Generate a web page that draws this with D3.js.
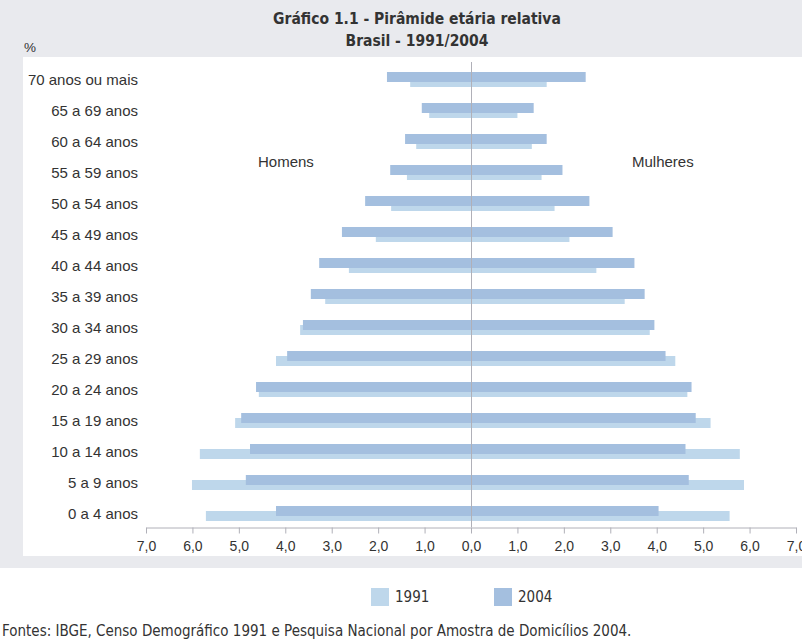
<!DOCTYPE html>
<html><head><meta charset="utf-8">
<script src="https://cdn.jsdelivr.net/npm/d3@7"></script>
<style>
html,body{margin:0;padding:0;background:#fff;}
svg{display:block;}
</style></head>
<body>
<script>
const categories = ["70 anos ou mais","65 a 69 anos","60 a 64 anos","55 a 59 anos","50 a 54 anos","45 a 49 anos","40 a 44 anos","35 a 39 anos","30 a 34 anos","25 a 29 anos","20 a 24 anos","15 a 19 anos","10 a 14 anos","5 a 9 anos","0 a 4 anos"];
const homens1991 = [1.31,0.90,1.18,1.38,1.72,2.05,2.63,3.14,3.68,4.20,4.57,5.08,5.84,6.01,5.71];
const homens2004 = [1.81,1.06,1.42,1.74,2.28,2.78,3.27,3.45,3.62,3.96,4.63,4.95,4.76,4.85,4.20];
const mulheres1991 = [1.63,1.00,1.31,1.52,1.80,2.12,2.70,3.31,3.85,4.40,4.66,5.16,5.79,5.88,5.57];
const mulheres2004 = [2.47,1.35,1.63,1.97,2.55,3.05,3.52,3.74,3.95,4.19,4.75,4.84,4.62,4.69,4.04];
const tickValues = [-7,-6,-5,-4,-3,-2,-1,0,1,2,3,4,5,6,7];
const seriesNames = ["1991","2004"];
const colors = {"1991":"#bed7eb","2004":"#a4bfdf"};

const W = 802, H = 640;
const svg = d3.select("body").append("svg").attr("width",W).attr("height",H);
const condensed = "'Liberation Sans Narrow','Arial Narrow','DejaVu Sans Condensed',sans-serif";
const regular = "'Liberation Sans',Arial,Helvetica,sans-serif";

// backgrounds
svg.append("rect").attr("x",0).attr("y",0).attr("width",W).attr("height",568).attr("fill","#e9eaee");
svg.append("rect").attr("x",23).attr("y",57).attr("width",W-23).attr("height",499).attr("fill","#fff");

// titles
svg.append("text").attr("x",417).attr("y",24).attr("text-anchor","middle")
  .attr("font-family",condensed).attr("font-weight","bold").attr("font-size",15.5).attr("fill","#333")
  .text("Gráfico 1.1 - Pirâmide etária relativa");
svg.append("text").attr("x",417).attr("y",46).attr("text-anchor","middle")
  .attr("font-family",condensed).attr("font-weight","bold").attr("font-size",15.5).attr("fill","#333")
  .text("Brasil - 1991/2004");
svg.append("text").attr("x",24).attr("y",52).attr("font-family",regular).attr("font-size",13.5).attr("fill","#333").text("%");

const x = d3.scaleLinear().domain([-7,7]).range([146,796]);
const y = d3.scaleBand().domain(categories).range([64,529]).padding(0);
const bw = 10, off = 2.5;
const cy = c => y(c) + y.bandwidth()/2;

const rows = categories.map((c,i)=>({c, h91:homens1991[i], h04:homens2004[i], m91:mulheres1991[i], m04:mulheres2004[i]}));

const g = svg.append("g");
// 1991 bars (behind)
g.selectAll(".h91").data(rows).join("rect")
  .attr("x",d=>x(-d.h91)).attr("width",d=>x(0)-x(-d.h91))
  .attr("y",d=>cy(d.c)-bw/2+off).attr("height",bw).attr("fill",colors["1991"]);
g.selectAll(".m91").data(rows).join("rect")
  .attr("x",x(0)).attr("width",d=>x(d.m91)-x(0))
  .attr("y",d=>cy(d.c)-bw/2+off).attr("height",bw).attr("fill",colors["1991"]);
// 2004 bars
g.selectAll(".h04").data(rows).join("rect")
  .attr("x",d=>x(-d.h04)).attr("width",d=>x(0)-x(-d.h04))
  .attr("y",d=>cy(d.c)-bw/2-off).attr("height",bw).attr("fill",colors["2004"]);
g.selectAll(".m04").data(rows).join("rect")
  .attr("x",x(0)).attr("width",d=>x(d.m04)-x(0))
  .attr("y",d=>cy(d.c)-bw/2-off).attr("height",bw).attr("fill",colors["2004"]);

// center line
svg.append("line").attr("x1",x(0)+0.5).attr("x2",x(0)+0.5).attr("y1",62).attr("y2",527)
  .attr("stroke","#b0b0b8").attr("stroke-width",1);

// category labels
svg.selectAll(".cat").data(categories).join("text")
  .attr("x",138).attr("y",d=>cy(d)).attr("dy","0.35em").attr("text-anchor","end")
  .attr("font-family",regular).attr("font-size",15).attr("fill","#333").text(d=>d);

// x axis
const fmt = v => d3.format(".1f")(Math.abs(v)).replace(".",",");
const ax = svg.append("g").attr("transform","translate(0,527.5)")
  .call(d3.axisBottom(x).tickValues(tickValues).tickFormat(fmt).tickSize(6).tickSizeOuter(0));
ax.select(".domain").attr("stroke","#b0b0b8");
ax.selectAll(".tick line").attr("stroke","#b0b0b8");
ax.selectAll(".tick text").attr("font-family",regular).attr("font-size",14).attr("fill","#333").attr("dy","1.05em");

// side labels
svg.append("text").attr("x",258).attr("y",167).attr("font-family",regular).attr("font-size",15).attr("fill","#333").text("Homens");
svg.append("text").attr("x",632).attr("y",167).attr("font-family",regular).attr("font-size",15).attr("fill","#333").text("Mulheres");

// legend
const lx = {"1991":371,"2004":494};
seriesNames.forEach(s=>{
  svg.append("rect").attr("x",lx[s]).attr("y",588).attr("width",18).attr("height",18).attr("fill",colors[s]);
  svg.append("text").attr("x",lx[s]+24).attr("y",602).attr("font-family",condensed).attr("font-size",15).attr("fill","#333").text(s);
});

// source
svg.append("text").attr("x",2).attr("y",636).attr("font-family",condensed).attr("font-size",15).attr("fill","#333")
  .text("Fontes: IBGE, Censo Demográfico 1991 e Pesquisa Nacional por Amostra de Domicílios 2004.");
</script>
</body></html>
